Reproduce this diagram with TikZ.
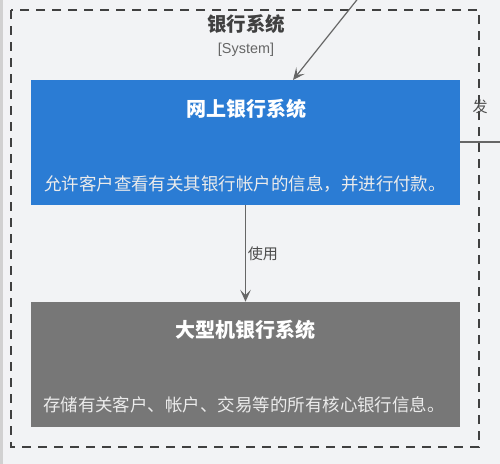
\documentclass[tikz,border=0pt]{standalone}
\usepackage{fontspec}
\setmainfont{Liberation Sans}
\newfontfamily\cjk{Noto Sans CJK SC}
\usetikzlibrary{arrows.meta}
\definecolor{bgcol}{HTML}{F2F3F5}
\definecolor{webblue}{HTML}{2B7CD4}
\definecolor{mfgray}{HTML}{777777}
\definecolor{linecol}{HTML}{666666}
\begin{document}
\begin{tikzpicture}[x=0.75pt, y=-0.75pt,
            box/.style={draw=none, minimum width=321.75pt, minimum height=93.75pt, inner sep=0pt},
            boxTitle/.style={text=white, font=\cjk\fontsize{15}{18}\selectfont\bfseries},
            boxText/.style={text=white!92!black, font=\cjk\fontsize{13.1}{15}\selectfont},
            label/.style={text=black!70, font=\cjk\fontsize{11.3}{13}\selectfont},
            conn/.style={draw=linecol, line width=0.9pt, -{Stealth[length=9pt, width=8pt, inset=4pt]}}]

            \fill[bgcol] (0,0) rectangle (500,464);
            \useasboundingbox (0,0) rectangle (500,464);
            \fill[black!18] (0,0) rectangle (3,464);

            % boundary
            \draw[black!75, line width=0.8pt, dash pattern=on 7pt off 5pt] (11,10) rectangle (479,447);
            \node[text=black!75, font=\cjk\fontsize{14.6}{17}\selectfont\bfseries] (sysT) at (246,24) {银行系统};
            \node[text=black!60, font=\fontsize{10.8}{13}\selectfont] (sysS) at (246,50) {[System]};

            \node[box, fill=webblue] (web) at (245.5,142.5) {};
            \node[boxTitle] (webT) at (246,109) {网上银行系统};
            \node[boxText] (webD) at (245,184) {允许客户查看有关其银行帐户的信息，并进行付款。};

            \node[box, fill=mfgray] (mf) at (245.5,364.5) {};
            \node[boxTitle] (mfT) at (245,330) {大型机银行系统};
            \node[boxText] (mfD) at (244,405) {存储有关客户、帐户、交易等的所有核心银行信息。};

            \coordinate (cust) at (360,-4);
            \coordinate (mail) at (504,142);

            \draw[conn] (cust) -- (293,80);
            \draw[conn] (web) -- (mf) node[label, pos=0.5, right, xshift=-2pt] {使用};
            \draw[draw=linecol, line width=0.9pt] (web.east |- mail) -- (mail);
            \node[label, anchor=west] (send) at (468,107) {发};

        \end{tikzpicture}
\end{document}
